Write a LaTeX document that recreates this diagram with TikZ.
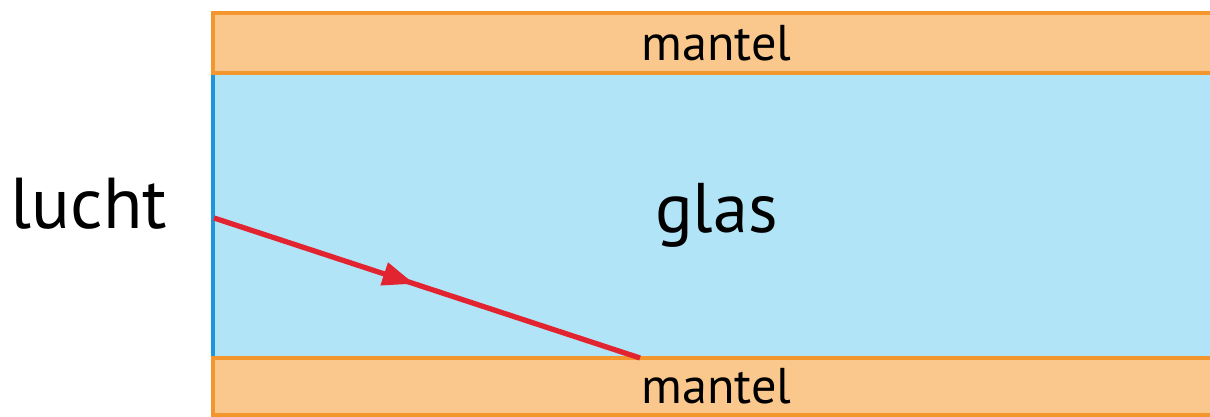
\documentclass[tikz,border=0pt]{standalone}
\usepackage{fontspec}
\setmainfont{PT Sans}
\usetikzlibrary{arrows.meta,decorations.markings}
\definecolor{mantelfill}{RGB}{250,200,140}
\definecolor{mantelline}{RGB}{242,150,45}
\definecolor{glasfill}{RGB}{178,228,247}
\definecolor{glasline}{RGB}{30,150,220}
\definecolor{rayred}{RGB}{226,36,48}
\begin{document}
\begin{tikzpicture}[
  band/.style={draw=mantelline,line width=1.3pt,fill=mantelfill,minimum width=10.07cm,inner sep=0pt,font=\fontsize{14.3}{17}\selectfont},
  core/.style={draw=glasline,line width=1.3pt,fill=glasfill,minimum width=10.07cm,minimum height=2.85cm,inner sep=0pt,font=\fontsize{20}{24}\selectfont}]
\useasboundingbox (0,0) rectangle (12.10,4.17);
\clip (0,0) rectangle (12.10,4.17);
\node[core] (glass) at (7.165,2.015) {glas};
\node[band,minimum height=0.60cm] (top) at (7.165,3.74) {mantel};
\node[band,minimum height=0.57cm] (bottom) at (7.165,0.305) {mantel};
\node[font=\fontsize{20.5}{24}\selectfont] (air) at (0.89,2.13) {lucht};
% ray enters the glass and hits the cladding
\coordinate (entry) at (2.14,1.99);
\coordinate (hit) at (6.40,0.59);
\draw[rayred,line width=1.5pt,postaction={decorate},
  decoration={markings,mark=at position 0.47 with {\arrow{Triangle[length=9pt,width=6.5pt]}}}]
  (entry) -- (hit);
\end{tikzpicture}
\end{document}
